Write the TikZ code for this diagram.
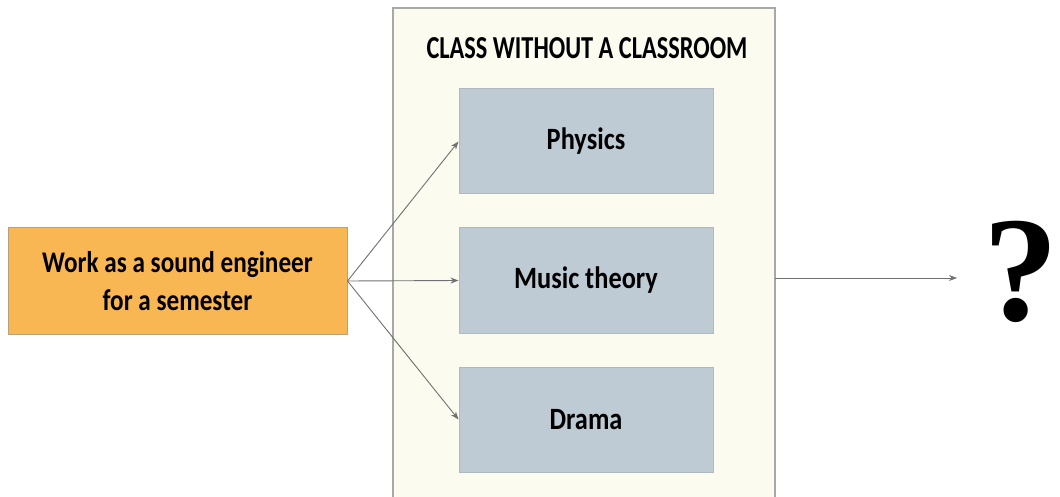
\documentclass[tikz,border=0pt]{standalone}
\usepackage{fontspec}
\setmainfont{Carlito}
\newfontfamily\qfont{Liberation Serif}
\usetikzlibrary{arrows.meta}
\definecolor{orangefill}{HTML}{F9B754}
\definecolor{orangeline}{HTML}{B9A27A}
\definecolor{creamfill}{HTML}{FBFBF0}
\definecolor{creamline}{HTML}{A8A8A4}
\definecolor{bluefill}{HTML}{BFCBD4}
\definecolor{blueline}{HTML}{AEB9C2}
\definecolor{arrowgray}{HTML}{707070}
\newcommand{\nar}[2][0.84]{\scalebox{#1}[1]{#2}}
\tikzset{
  startbox/.style={draw=orangeline, line width=1pt, fill=orangefill, minimum width=339pt, minimum height=106pt, inner sep=0pt, align=center, font=\fontsize{30}{38}\selectfont\bfseries},
  subjbox/.style={draw=blueline, line width=1pt, fill=bluefill, minimum width=254pt, minimum height=105pt, inner sep=0pt, font=\fontsize{31}{34}\selectfont\bfseries},
  conn/.style={draw=arrowgray, line width=0.9pt, -{Stealth[length=8pt,width=6pt]}},
}
\begin{document}
\begin{tikzpicture}[x=1pt,y=-1pt]
\useasboundingbox (0,0) rectangle (1060,497);
\begin{scope}
\clip (0,0) rectangle (1060,497);
\draw[draw=creamline, line width=1.2pt, fill=creamfill] (393,8) rectangle (775,510);
\end{scope}
\coordinate (contR) at (775,278);
\coordinate (qend) at (957,278);
\node[font=\fontsize{32}{34}\selectfont\bfseries] (title) at (587,48) {\nar[0.76]{CLASS WITHOUT A CLASSROOM}};
\node[startbox] (work) at (177.5,281) {\nar{Work as a sound engineer}\\\nar{for a semester}};
\node[subjbox] (phys) at (586,141.5) {\nar[0.85]{Physics}};
\node[subjbox] (music) at (586,280.5) {\nar[0.85]{Music theory}};
\node[subjbox] (drama) at (586,419.5) {\nar[0.85]{Drama}};
\node[font=\fontsize{150}{150}\selectfont\bfseries\qfont, inner sep=0pt] (q) at (1021,272) {?};
\draw[conn] (work.east) -- (phys.west);
\draw[conn] (work.east) -- (music.west);
\draw[conn] (work.east) -- (drama.west);
\draw[conn] (contR) -- (qend);
\end{tikzpicture}
\end{document}
